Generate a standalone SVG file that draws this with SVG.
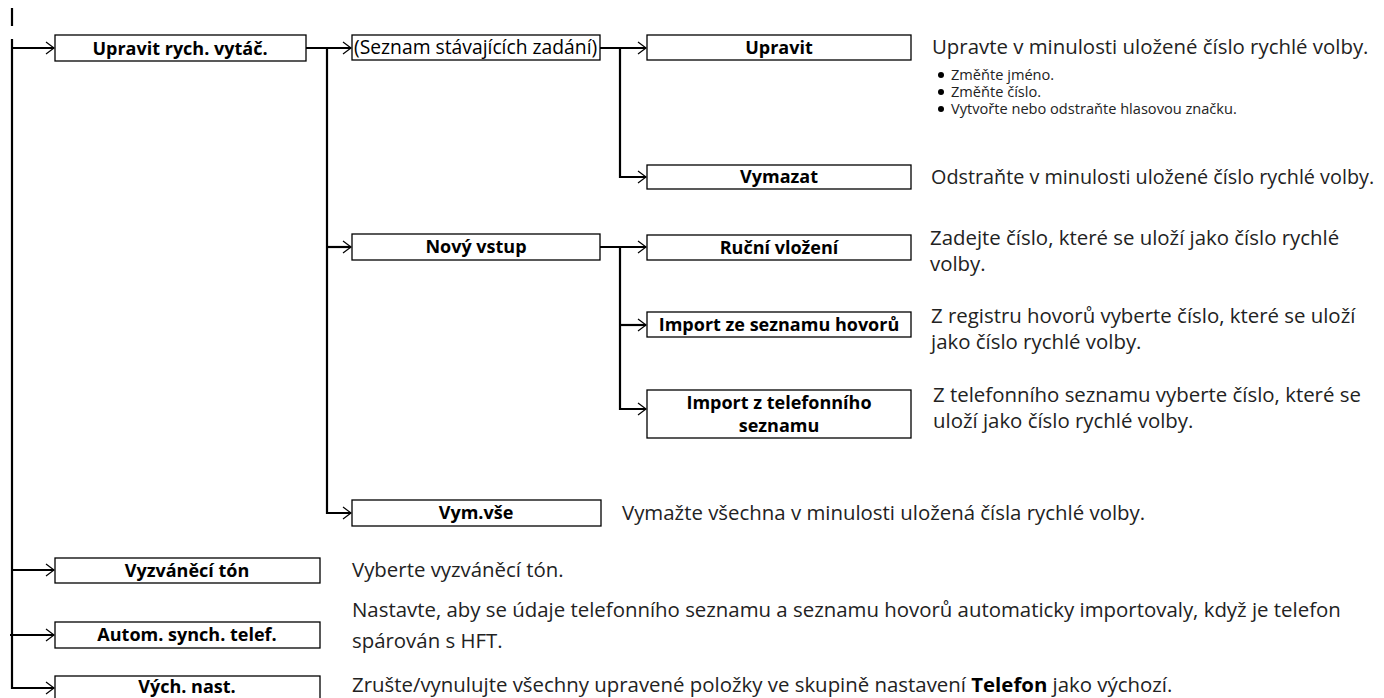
<svg xmlns="http://www.w3.org/2000/svg" width="1384" height="698" viewBox="0 0 1384 698">
<defs>
<marker id="arr" markerUnits="userSpaceOnUse" markerWidth="12" markerHeight="14" refX="9" refY="7" orient="auto" viewBox="0 0 12 14">
<path d="M1,1 L9,7 L1,13" fill="none" stroke="#000" stroke-width="1.2"/>
</marker>
</defs>
<style>
.box{fill:#fff;stroke:#000;stroke-width:1.3}
.ln{fill:none;stroke:#000;stroke-width:2.2}
.lbl{font-family:"Open Sans","Noto Sans",sans-serif;font-weight:bold;font-size:18px;fill:#000;text-anchor:middle}
.reg{font-family:"Open Sans","Noto Sans",sans-serif;font-size:19.3px;fill:#000}
.desc{font-family:"Open Sans","Noto Sans",sans-serif;font-size:20.4px;fill:#222}
.sm{font-family:"Open Sans","Noto Sans",sans-serif;font-size:14.6px;fill:#222}
</style>
<g id="connectors">
<line class="ln" x1="12" y1="8" x2="12" y2="26"/>
<path class="ln" d="M12,39 V688 H54" marker-end="url(#arr)"/>
<path class="ln" d="M12,48 H54" marker-end="url(#arr)"/>
<path class="ln" d="M12,570 H54" marker-end="url(#arr)"/>
<path class="ln" d="M10,635 H54" marker-end="url(#arr)"/>
<path class="ln" d="M306,48 H351" marker-end="url(#arr)"/>
<path class="ln" d="M327,48 V513 H351" marker-end="url(#arr)"/>
<path class="ln" d="M327,247 H351" marker-end="url(#arr)"/>
<path class="ln" d="M600,48 H646" marker-end="url(#arr)"/>
<path class="ln" d="M620,48 V177 H646" marker-end="url(#arr)"/>
<path class="ln" d="M600,247 H646" marker-end="url(#arr)"/>
<path class="ln" d="M620,247 V409 H646" marker-end="url(#arr)"/>
<path class="ln" d="M620,325 H646" marker-end="url(#arr)"/>
</g>
<g id="n-upravit-rych">
<rect class="box" x="55" y="35" width="251" height="26"/>
<text class="lbl" x="180" y="55">Upravit rych. vytáč.</text>
</g>
<g id="n-seznam">
<rect class="box" x="352" y="35" width="248" height="25"/>
<text class="reg" x="354" y="54">(Seznam stávajících zadání)</text>
</g>
<g id="n-upravit">
<rect class="box" x="647" y="35" width="264" height="25"/>
<text class="lbl" x="779" y="54">Upravit</text>
</g>
<g id="n-vymazat">
<rect class="box" x="647" y="165" width="264" height="24"/>
<text class="lbl" x="779" y="183">Vymazat</text>
</g>
<g id="n-novy">
<rect class="box" x="352" y="234" width="248" height="26"/>
<text class="lbl" x="476" y="253">Nový vstup</text>
</g>
<g id="n-rucni">
<rect class="box" x="647" y="235" width="264" height="25"/>
<text class="lbl" x="779" y="254">Ruční vložení</text>
</g>
<g id="n-import-hovoru">
<rect class="box" x="647" y="312" width="264" height="25"/>
<text class="lbl" x="779" y="331">Import ze seznamu hovorů</text>
</g>
<g id="n-import-tel">
<rect class="box" x="647" y="390" width="264" height="48"/>
<text class="lbl" x="779" y="409">Import z telefonního</text>
<text class="lbl" x="779" y="432">seznamu</text>
</g>
<g id="n-vymvse">
<rect class="box" x="352" y="500" width="249" height="26"/>
<text class="lbl" x="476" y="519">Vym.vše</text>
</g>
<g id="n-vyzvaneci">
<rect class="box" x="55" y="558" width="265" height="25"/>
<text class="lbl" x="187" y="577">Vyzváněcí tón</text>
</g>
<g id="n-autom">
<rect class="box" x="55" y="622" width="265" height="26"/>
<text class="lbl" x="187" y="641">Autom. synch. telef.</text>
</g>
<g id="n-vych">
<rect class="box" x="55" y="676" width="265" height="26"/>
<text class="lbl" x="187" y="693">Vých. nast.</text>
</g>
<g id="descriptions">
<text class="desc" x="932" y="54">Upravte v minulosti uložené číslo rychlé volby.</text>
<circle cx="941" cy="75" r="3" fill="#000"/>
<text class="sm" x="951" y="80">Změňte jméno.</text>
<circle cx="941" cy="92" r="3" fill="#000"/>
<text class="sm" x="951" y="97">Změňte číslo.</text>
<circle cx="941" cy="109" r="3" fill="#000"/>
<text class="sm" x="951" y="114">Vytvořte nebo odstraňte hlasovou značku.</text>
<text class="desc" x="931" y="184" style="font-size:19.8px">Odstraňte v minulosti uložené číslo rychlé volby.</text>
<text class="desc" x="930" y="245">Zadejte číslo, které se uloží jako číslo rychlé</text>
<text class="desc" x="930" y="271">volby.</text>
<text class="desc" x="931" y="323">Z registru hovorů vyberte číslo, které se uloží</text>
<text class="desc" x="931" y="349">jako číslo rychlé volby.</text>
<text class="desc" x="933" y="402">Z telefonního seznamu vyberte číslo, které se</text>
<text class="desc" x="933" y="428">uloží jako číslo rychlé volby.</text>
<text class="desc" x="622" y="520">Vymažte všechna v minulosti uložená čísla rychlé volby.</text>
<text class="desc" x="352" y="577">Vyberte vyzváněcí tón.</text>
<text class="desc" x="352" y="617">Nastavte, aby se údaje telefonního seznamu a seznamu hovorů automaticky importovaly, když je telefon</text>
<text class="desc" x="352" y="648">spárován s HFT.</text>
<text class="desc" x="352" y="692">Zrušte/vynulujte všechny upravené položky ve skupině nastavení <tspan font-weight="bold" fill="#000">Telefon</tspan> jako výchozí.</text>
</g>
</svg>
